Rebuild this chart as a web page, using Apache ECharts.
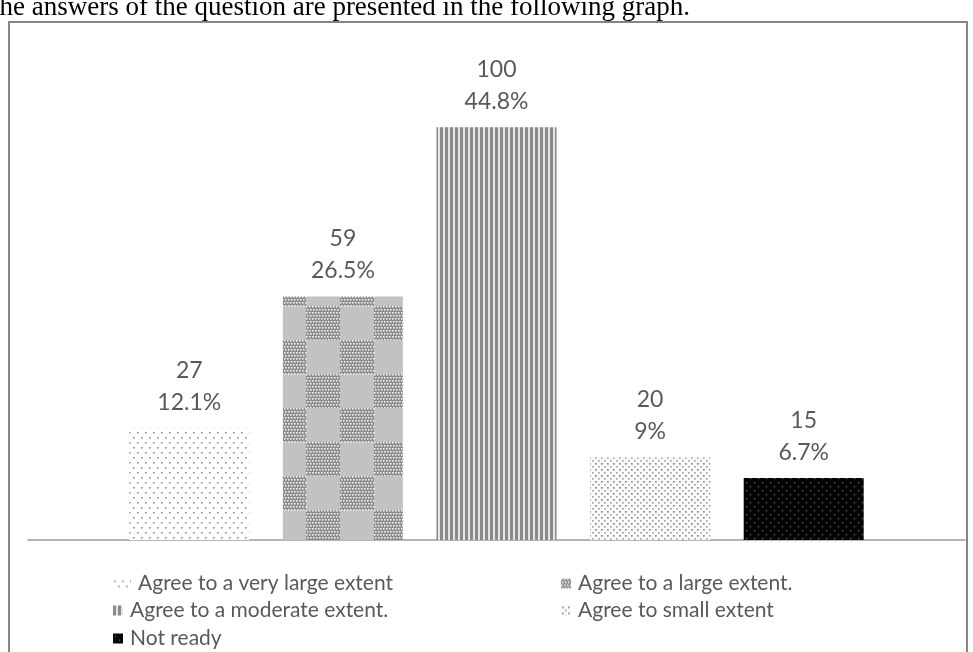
<!DOCTYPE html>
<html>
<head>
<meta charset="utf-8">
<script src="https://cdn.jsdelivr.net/npm/echarts@6/dist/echarts.min.js"></script>
<style>
  html, body { margin: 0; padding: 0; background: #fff; }
  #chart { width: 973px; height: 652px; }
</style>
</head>
<body>
<div id="chart"></div>
<script>
// Survey answers: number of respondents and share per answer
const categories = [
  'Agree to a very large extent',
  'Agree to a large extent.',
  'Agree to a moderate extent.',
  'Agree to small extent',
  'Not ready'
];
const counts = [27, 59, 100, 20, 15];
const percents = ['12.1%', '26.5%', '44.8%', '9%', '6.7%'];

// Small tiled fills used for the bars and legend keys
function makePattern(w, h, draw) {
  const c = document.createElement('canvas');
  c.width = w; c.height = h;
  draw(c.getContext('2d'));
  return { image: c, repeat: 'repeat' };
}
function dot(ctx, x, y, s, col) { ctx.fillStyle = col; ctx.fillRect(x, y, s, s); }

const fills = [
  // sparse grey dots on white
  makePattern(8, 10, ctx => {
    ctx.fillStyle = '#fff'; ctx.fillRect(0, 0, 8, 10);
    dot(ctx, 1, 2, 1.6, '#8f8f8f');
    dot(ctx, 5, 7, 1.6, '#8f8f8f');
  }),
  // large checkerboard of fine dotted cells on grey
  makePattern(68, 68, ctx => {
    ctx.fillStyle = '#c2c2c2'; ctx.fillRect(0, 0, 68, 68);
    [[0, 0], [34, 34]].forEach(([ox, oy]) => {
      ctx.fillStyle = '#8c8c8c'; ctx.fillRect(ox, oy, 34, 34);
      for (let y = 0; y < 34; y += 3) {
        for (let x = (y / 3) % 2 ? 1 : 0; x < 34; x += 3) {
          dot(ctx, ox + x, oy + y, 1.6, '#f0f0f0');
        }
      }
    });
  }),
  // vertical stripes
  makePattern(5, 4, ctx => {
    ctx.fillStyle = '#e6e6e6'; ctx.fillRect(0, 0, 5, 4);
    ctx.fillStyle = '#8a8a8a'; ctx.fillRect(0, 0, 3, 4);
  }),
  // denser grey dots on white
  makePattern(6, 6, ctx => {
    ctx.fillStyle = '#fafafa'; ctx.fillRect(0, 0, 6, 6);
    dot(ctx, 1, 1, 1.7, '#8a8a8a');
    dot(ctx, 4, 4, 1.7, '#a8a8a8');
  }),
  // black with small grey dots
  makePattern(8, 8, ctx => {
    ctx.fillStyle = '#050505'; ctx.fillRect(0, 0, 8, 8);
    dot(ctx, 2, 2, 1.2, '#6e6e6e');
    dot(ctx, 6, 6, 1.2, '#6e6e6e');
  })
];

const textColor = '#595959';
const fontFamily = 'Lato, "Open Sans", sans-serif';

// legend key placement: two columns, three rows
const legendSpots = [
  { left: 113, top: 573, w: 18 },
  { left: 561, top: 573, w: 10 },
  { left: 113, top: 600, w: 10 },
  { left: 561, top: 600, w: 10 },
  { left: 113, top: 628, w: 10 }
];

const chart = echarts.init(document.getElementById('chart'), null, { renderer: 'canvas' });

chart.setOption({
  backgroundColor: '#ffffff',
  animation: false,
  graphic: [
    {
      type: 'text',
      left: -17, top: -6,
      style: {
        text: 'The answers of the question are presented in the following graph.',
        font: '27px "Liberation Serif", "Times New Roman", serif',
        fill: '#000'
      }
    },
    {
      type: 'rect',
      shape: { x: 9, y: 22, width: 958, height: 660 },
      style: { fill: 'none', stroke: '#858585', lineWidth: 2 }
    }
  ],
  grid: { left: 28, right: 8, top: 86, bottom: 112 },
  legend: categories.map((name, i) => ({
    data: [name],
    left: legendSpots[i].left,
    top: legendSpots[i].top,
    padding: 0,
    icon: 'rect',
    itemWidth: legendSpots[i].w,
    itemHeight: 10,
    itemGap: 0,
    selectedMode: false,
    textStyle: { color: textColor, fontSize: 21, fontFamily: fontFamily, padding: [0, 0, 0, 2] }
  })),
  xAxis: {
    type: 'category',
    data: [''],
    axisLine: { lineStyle: { color: '#b5b5b5', width: 2 } },
    axisTick: { show: false },
    axisLabel: { show: false }
  },
  yAxis: {
    type: 'value',
    min: 0, max: 110,
    show: false,
    splitLine: { show: false }
  },
  series: categories.map((name, i) => ({
    type: 'bar',
    name: name,
    data: [counts[i]],
    barWidth: 120,
    barGap: '28%',
    itemStyle: { color: fills[i] },
    label: {
      show: true,
      position: 'top',
      distance: 10,
      formatter: () => counts[i] + '\n' + percents[i],
      color: textColor,
      fontSize: 23,
      lineHeight: 32,
      fontFamily: fontFamily
    }
  }))
});
</script>
</body>
</html>
